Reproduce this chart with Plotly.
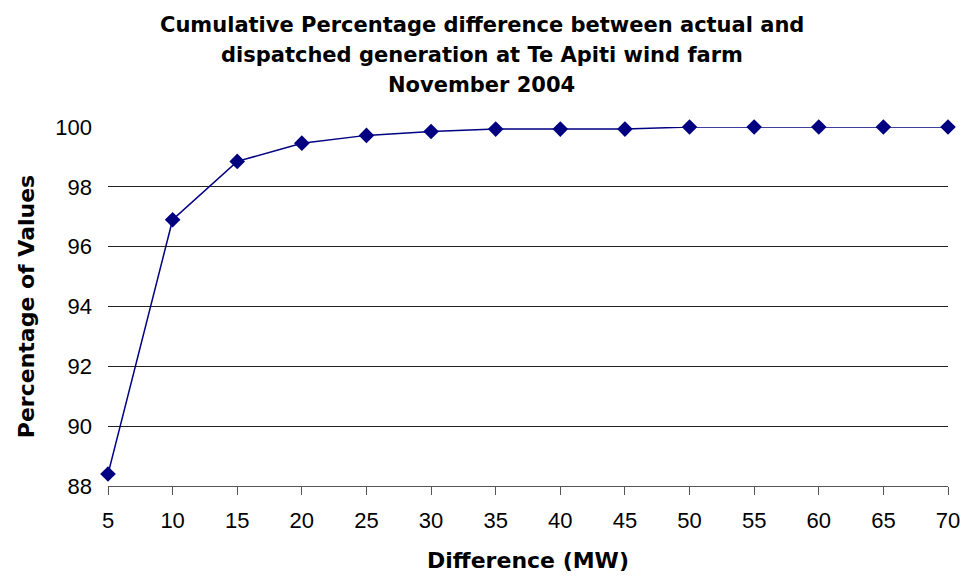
import plotly.graph_objects as go

difference_mw = [5, 10, 15, 20, 25, 30, 35, 40, 45, 50, 55, 60, 65, 70]
percentage_values = [88.4, 96.9, 98.85, 99.46, 99.72, 99.85, 99.93, 99.93, 99.93, 100, 100, 100, 100, 100]
y_ticks = [88, 90, 92, 94, 96, 98, 100]
title_lines = [
    "Cumulative Percentage difference between actual and",
    "dispatched generation at Te Apiti wind farm",
    "November 2004",
]

fig = go.Figure()
fig.add_trace(go.Scatter(
    x=difference_mw, y=percentage_values, mode="lines+markers",
    line=dict(color="#000080", width=1.5),
    marker=dict(symbol="diamond", size=12, color="#000080"),
    showlegend=False, cliponaxis=False,
))

font = "Liberation Sans, Arial, sans-serif"
bold_font = "DejaVu Sans, Liberation Sans, sans-serif"
W, H = 963, 579
ml, mr, mt, mb = 108, 15, 127, 93
ph = H - mt - mb

def ypaper(py):
    return (H - mb - py) / ph

for i, line in enumerate(title_lines):
    fig.add_annotation(
        text="<b>" + line + "</b>", xref="paper", yref="paper",
        x=(W / 2 - ml) / (W - ml - mr), y=ypaper(25 + 30 * i),
        xanchor="center", yanchor="middle", showarrow=False,
        font=dict(family=bold_font, size=21, color="black"),
    )

fig.update_layout(
    width=W, height=H,
    margin=dict(l=ml, r=mr, t=mt, b=mb, autoexpand=False),
    paper_bgcolor="white", plot_bgcolor="white",
    font=dict(family=font, size=22, color="black"),
    xaxis=dict(
        range=[5, 70], tickvals=difference_mw, ticks="outside", ticklen=8,
        tickcolor="#555", showline=True, linecolor="#555", linewidth=1,
        showgrid=False, zeroline=False, ticklabelstandoff=7, automargin=False,
        tickfont=dict(size=22),
        title=dict(text="<b>Difference (MW)</b>", font=dict(family=bold_font, size=22), standoff=20),
    ),
    yaxis=dict(
        range=[88, 100], tickvals=y_ticks, showgrid=True, gridcolor="#222",
        gridwidth=1, zeroline=False, showline=False, ticks="", automargin=False,
        ticklabelstandoff=15, tickfont=dict(size=22),
        title=dict(text="<b>Percentage of Values</b>", font=dict(family=bold_font, size=22), standoff=14),
    ),
)
fig.write_html("out.html")
